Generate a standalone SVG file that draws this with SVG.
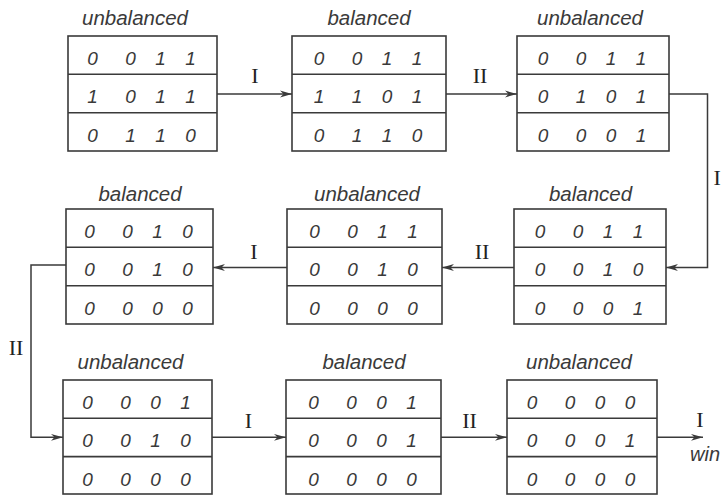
<svg xmlns="http://www.w3.org/2000/svg" width="722" height="495" viewBox="0 0 722 495">
<style>
.box{fill:#fff;stroke:#3a3a3a;stroke-width:1.6}
.div{stroke:#3a3a3a;stroke-width:1.6}
.lab{font-family:"Liberation Sans",Arial,sans-serif;font-style:italic;font-size:20.5px;fill:#3a3a3a;text-anchor:middle}
.dig{font-family:"Liberation Sans",Arial,sans-serif;font-style:italic;font-size:19px;fill:#3a3a3a;text-anchor:middle}
.con{fill:none;stroke:#3a3a3a;stroke-width:1.5}
.el{font-family:"Liberation Serif","Times New Roman",serif;font-size:22px;fill:#222;text-anchor:middle}
</style>
<defs>
<marker id="ah" viewBox="0 0 12 8" refX="12" refY="4" markerWidth="12" markerHeight="8" markerUnits="userSpaceOnUse" orient="auto">
<path d="M0,0.6 L12,4 L0,7.4 L3.5,4 z" fill="#3a3a3a"/>
</marker>
</defs>
<rect width="722" height="495" fill="#fff"/>

<g id="n1">
<rect class="box" x="68" y="36" width="149" height="115"/>
<line class="div" x1="68" y1="74.3" x2="217" y2="74.3"/><line class="div" x1="68" y1="112.7" x2="217" y2="112.7"/>
<text class="lab" x="135" y="25">unbalanced</text>
<text class="dig" x="92.5 130.5 160.5 190.5" y="65">0011</text>
<text class="dig" x="92.5 130.5 160.5 190.5" y="103.3">1011</text>
<text class="dig" x="92.5 130.5 160.5 190.5" y="141.6">0110</text>
</g>
<g id="n2">
<rect class="box" x="292" y="36" width="154" height="115"/>
<line class="div" x1="292" y1="74.3" x2="446" y2="74.3"/><line class="div" x1="292" y1="112.7" x2="446" y2="112.7"/>
<text class="lab" x="369" y="25">balanced</text>
<text class="dig" x="319 357 387 417" y="65">0011</text>
<text class="dig" x="319 357 387 417" y="103.3">1101</text>
<text class="dig" x="319 357 387 417" y="141.6">0110</text>
</g>
<g id="n3">
<rect class="box" x="517" y="36" width="152" height="115"/>
<line class="div" x1="517" y1="74.3" x2="669" y2="74.3"/><line class="div" x1="517" y1="112.7" x2="669" y2="112.7"/>
<text class="lab" x="590" y="25">unbalanced</text>
<text class="dig" x="543 581 611 641" y="65">0011</text>
<text class="dig" x="543 581 611 641" y="103.3">0101</text>
<text class="dig" x="543 581 611 641" y="141.6">0001</text>
</g>
<g id="n4">
<rect class="box" x="66" y="209" width="147" height="115"/>
<line class="div" x1="66" y1="247.3" x2="213" y2="247.3"/><line class="div" x1="66" y1="285.7" x2="213" y2="285.7"/>
<text class="lab" x="140" y="201">balanced</text>
<text class="dig" x="89.5 127.5 157.5 187.5" y="238">0010</text>
<text class="dig" x="89.5 127.5 157.5 187.5" y="276.3">0010</text>
<text class="dig" x="89.5 127.5 157.5 187.5" y="314.6">0000</text>
</g>
<g id="n5">
<rect class="box" x="287" y="209" width="155" height="115"/>
<line class="div" x1="287" y1="247.3" x2="442" y2="247.3"/><line class="div" x1="287" y1="285.7" x2="442" y2="285.7"/>
<text class="lab" x="367" y="201">unbalanced</text>
<text class="dig" x="314.5 352.5 382.5 412.5" y="238">0011</text>
<text class="dig" x="314.5 352.5 382.5 412.5" y="276.3">0010</text>
<text class="dig" x="314.5 352.5 382.5 412.5" y="314.6">0000</text>
</g>
<g id="n6">
<rect class="box" x="514" y="209" width="152" height="115"/>
<line class="div" x1="514" y1="247.3" x2="666" y2="247.3"/><line class="div" x1="514" y1="285.7" x2="666" y2="285.7"/>
<text class="lab" x="590.5" y="201">balanced</text>
<text class="dig" x="540 578 608 638" y="238">0011</text>
<text class="dig" x="540 578 608 638" y="276.3">0010</text>
<text class="dig" x="540 578 608 638" y="314.6">0001</text>
</g>
<g id="n7">
<rect class="box" x="63" y="380" width="149" height="114"/>
<line class="div" x1="63" y1="418.3" x2="212" y2="418.3"/><line class="div" x1="63" y1="456.6" x2="212" y2="456.6"/>
<text class="lab" x="130.5" y="368.5">unbalanced</text>
<text class="dig" x="87.5 125.5 155.5 185.5" y="409">0001</text>
<text class="dig" x="87.5 125.5 155.5 185.5" y="447.3">0010</text>
<text class="dig" x="87.5 125.5 155.5 185.5" y="485.6">0000</text>
</g>
<g id="n8">
<rect class="box" x="286" y="380" width="155" height="114"/>
<line class="div" x1="286" y1="418.3" x2="441" y2="418.3"/><line class="div" x1="286" y1="456.6" x2="441" y2="456.6"/>
<text class="lab" x="364" y="368.5">balanced</text>
<text class="dig" x="313.5 351.5 381.5 411.5" y="409">0001</text>
<text class="dig" x="313.5 351.5 381.5 411.5" y="447.3">0001</text>
<text class="dig" x="313.5 351.5 381.5 411.5" y="485.6">0000</text>
</g>
<g id="n9">
<rect class="box" x="507" y="380" width="150" height="114"/>
<line class="div" x1="507" y1="418.3" x2="657" y2="418.3"/><line class="div" x1="507" y1="456.6" x2="657" y2="456.6"/>
<text class="lab" x="579" y="368.5">unbalanced</text>
<text class="dig" x="532 570 600 630" y="409">0000</text>
<text class="dig" x="532 570 600 630" y="447.3">0001</text>
<text class="dig" x="532 570 600 630" y="485.6">0000</text>
</g>

<g id="connectors">
<path class="con" d="M217,94 H292" marker-end="url(#ah)"/>
<text class="el" x="255" y="83">I</text>
<path class="con" d="M446,94 H517" marker-end="url(#ah)"/>
<text class="el" x="480" y="83">II</text>
<path class="con" d="M669,94 H707.5 V267.5 H666" marker-end="url(#ah)"/>
<text class="el" x="713.5" y="185" style="text-anchor:start">I</text>
<path class="con" d="M514,267.5 H442" marker-end="url(#ah)"/>
<text class="el" x="482" y="259">II</text>
<path class="con" d="M287,267.5 H213" marker-end="url(#ah)"/>
<text class="el" x="254" y="259">I</text>
<path class="con" d="M66,265 H31 V437.3 H63" marker-end="url(#ah)"/>
<text class="el" x="16" y="355">II</text>
<path class="con" d="M212,437.3 H286" marker-end="url(#ah)"/>
<text class="el" x="248.5" y="428">I</text>
<path class="con" d="M441,437.3 H507" marker-end="url(#ah)"/>
<text class="el" x="469.5" y="428">II</text>
<path class="con" d="M657,437.3 H703" marker-end="url(#ah)"/>
<text class="el" x="700" y="427">I</text>
<text class="lab" x="690" y="461" style="text-anchor:start;font-size:20px">win</text>
</g>
</svg>
